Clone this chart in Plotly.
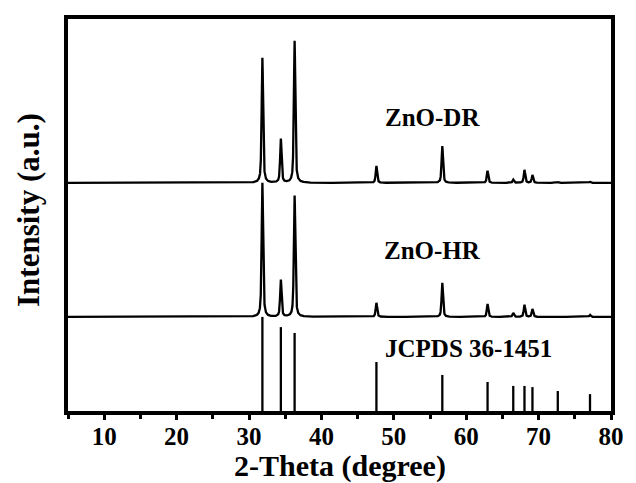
import numpy as np
import plotly.graph_objects as go

# ---- data ----
peak_pos = [31.85, 34.4, 36.3, 47.6, 56.7, 62.95, 66.5, 68.05, 69.15, 72.65, 77.1]
dr_heights = [31.9, 11.2, 36.2, 4.3, 9.4, 3.1, 0.8, 3.3, 2.0, 0.2, 0.3]
hr_heights = [34.2, 9.4, 30.9, 3.6, 8.7, 3.3, 1.0, 3.1, 2.0, 0.2, 0.5]
jcpds_heights = [24.0, 21.4, 19.9, 12.5, 9.2, 7.4, 6.4, 6.4, 6.1, 5.1, 4.3]
dr_offset = 58.2
hr_offset = 24.0
labels = ["ZnO-DR", "ZnO-HR", "JCPDS 36-1451"]
x_ticks = [10, 20, 30, 40, 50, 60, 70, 80]

FONT = "Liberation Serif, Times New Roman, serif"

x = np.arange(5, 80.0001, 0.01)


def pattern(heights, offset, fwhm=0.24, eta=0.6):
    y = np.full_like(x, offset)
    g = fwhm / 2.0
    for p, h in zip(peak_pos, heights):
        lor = 1.0 / (1.0 + ((x - p) / g) ** 2)
        gau = np.exp(-np.log(2) * ((x - p) / g) ** 2)
        y += h * (eta * lor + (1 - eta) * gau)
    return y


fig = go.Figure()
for hts, off in [(dr_heights, dr_offset), (hr_heights, hr_offset)]:
    fig.add_trace(go.Scatter(x=x, y=pattern(hts, off), mode="lines",
                             line=dict(color="black", width=2.3), showlegend=False,
                             hoverinfo="skip"))

# JCPDS stick pattern
sx, sy = [], []
for p, h in zip(peak_pos, jcpds_heights):
    sx += [p, p, None]
    sy += [0, h, None]
fig.add_trace(go.Scatter(x=sx, y=sy, mode="lines",
                         line=dict(color="black", width=2.3), showlegend=False))

ann_font = dict(family=FONT, size=25, color="black", weight="bold")
fig.add_annotation(x=55.3, y=74.8, text=labels[0], showarrow=False, font=ann_font)
fig.add_annotation(x=55.4, y=41.0, text=labels[1], showarrow=False, font=ann_font)
fig.add_annotation(x=60.3, y=15.9, text=labels[2], showarrow=False, font=ann_font)

title_font = dict(family=FONT, size=30, color="black", weight="bold")
fig.add_annotation(xref="paper", yref="paper", x=0, y=0.5, xshift=-40, yshift=5,
                   text="Intensity (a.u.)", textangle=-90, showarrow=False,
                   font=dict(family=FONT, size=31, color="black", weight="bold"),
                   xanchor="center", yanchor="middle")
fig.add_annotation(xref="paper", yref="paper", x=0.5, y=0, yshift=-55,
                   text="2-Theta (degree)", showarrow=False,
                   font=title_font, xanchor="center", yanchor="middle")

fig.update_layout(
    width=636, height=483,
    margin=dict(l=68, r=19, t=19, b=72),
    paper_bgcolor="white", plot_bgcolor="white",
    xaxis=dict(range=[5, 80], tickvals=x_ticks, ticks="outside", ticklen=5,
               tickwidth=3, tickcolor="black", ticklabelstandoff=-5,
               minor=dict(dtick=5, tick0=5, ticks="outside", ticklen=4,
                          tickwidth=3, tickcolor="black", showgrid=False),
               showline=True, linewidth=4, linecolor="black", mirror=True,
               showgrid=False, zeroline=False,
               tickfont=dict(family=FONT, size=25, color="black", weight="bold")),
    yaxis=dict(range=[0, 100], showticklabels=False, ticks="",
               showline=True, linewidth=4, linecolor="black", mirror=True,
               showgrid=False, zeroline=False),
)

fig.write_html("out.html", config={"displayModeBar": False},
               post_script="document.body.style.margin='0';document.body.style.overflow='hidden';")
